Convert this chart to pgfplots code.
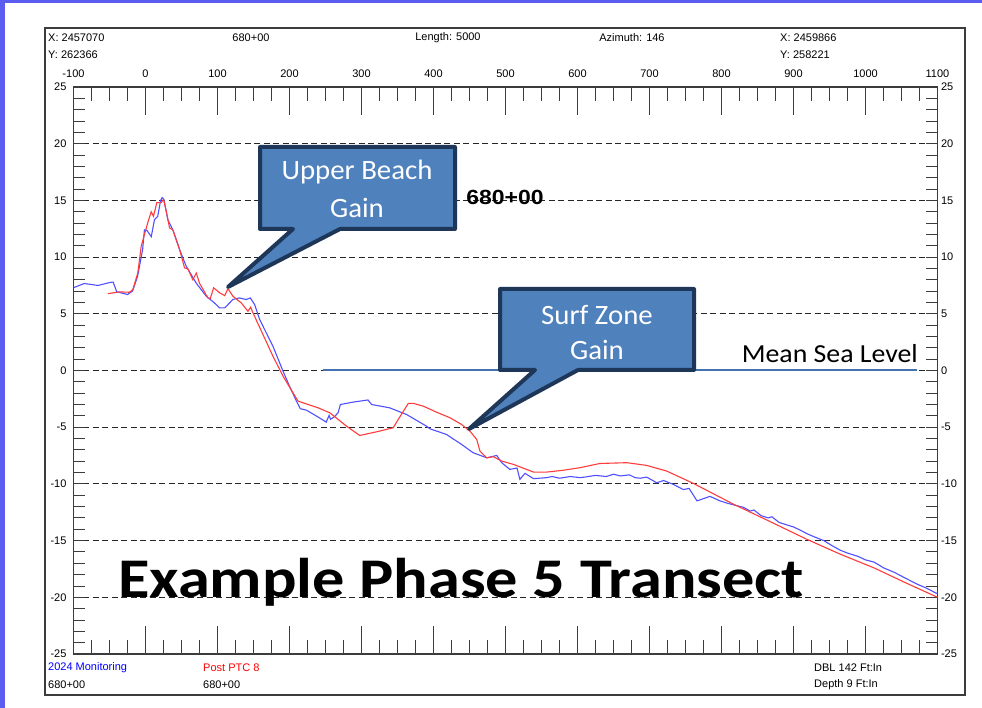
\documentclass[border=0pt]{standalone}
\usepackage{fontspec}
\setmainfont{Liberation Sans}
\newfontfamily\calibri{Carlito}
\usepackage{pgfplots}
\pgfplotsset{compat=1.18}

\definecolor{slideblue}{RGB}{92,92,240}
\definecolor{callfill}{RGB}{79,129,189}
\definecolor{calledge}{RGB}{30,55,88}
\definecolor{mslline}{RGB}{68,114,176}
\definecolor{blueline}{RGB}{80,80,255}
\definecolor{redline}{RGB}{255,60,60}
\definecolor{axgray}{RGB}{60,60,60}

\pgfplotstableread{
x y
-100 7.3
-85 7.67
-66 7.5
-50 7.75
-45 7.8
-40 6.95
-25 6.7
-18 7.0
-11 8.3
-4 10.66
-1.5 12.4
2 12.36
8 11.8
12.5 13.3
17 13.6
21 15.0
23.2 15.25
25.5 15.1
31 13.3
38 12.4
47.3 10.66
56.6 9.19
70.5 7.7
84.4 6.55
95 6.0
103 5.52
110 5.52
121.4 6.26
130 6.4
140 6.26
145.6 6.4
151.6 5.81
158.6 4.49
177 2.14
191 -0.06
200 -1.38
209.6 -2.7
215 -3.37
223.5 -3.5
237 -4.0
251 -4.55
255 -3.96
257 -4.3
262 -4.1
267.5 -3.73
270.7 -3.0
288 -2.79
309 -2.6
314 -3.0
339 -3.29
362.6 -3.88
390 -4.9
395 -5.14
418 -5.64
439 -6.52
455 -7.25
474 -7.7
487.8 -7.49
494.7 -8.13
506 -8.72
516 -8.6
520 -9.6
527 -9.07
539 -9.54
557 -9.45
565 -9.35
575 -9.5
590 -9.35
603.6 -9.45
610 -9.4
625 -9.25
640 -9.35
650 -9.15
660 -9.3
672 -9.2
680 -9.45
687 -9.5
696 -9.4
710 -9.9
719.5 -9.7
733 -10.04
747 -10.5
755 -10.4
766 -11.5
775 -11.3
784 -11.1
798 -11.5
808 -11.7
826 -12.0
830 -12.05
840 -12.4
845 -12.3
855 -12.8
865 -13.0
870 -12.9
880 -13.4
890 -13.6
900 -13.8
910 -14.1
919 -14.4
930 -14.7
942 -15.0
955 -15.5
965 -15.85
975 -16.1
990 -16.4
1000 -16.7
1012 -16.9
1025 -17.4
1040 -17.8
1055 -18.3
1072 -18.85
1085 -19.2
1100 -19.7
}\bluedata

\pgfplotstableread{
x y
-52 6.78
-36 6.93
-22 6.9
-17.6 7.14
-10.7 8.6
-6 10.95
-1.4 12.0
3 13.0
7.9 14.0
11.1 13.6
15.7 14.8
21.8 14.8
25 15.1
29 14.0
33.4 12.57
38 12.4
47.3 10.7
54.2 9.05
58.9 8.96
65.8 8.0
70.5 8.6
75 7.7
86.7 6.4
90 6.35
94.6 7.29
103 6.85
110 6.6
114.5 7.22
121.4 6.55
133 5.96
142.3 5.22
146 5.58
149.3 5.08
177 1.26
191 -0.5
211.8 -2.7
239.7 -3.29
256 -3.73
279 -4.9
297.6 -5.73
325 -5.35
344 -5.05
351 -4.32
365 -2.9
372 -2.9
385.7 -3.14
404 -3.67
423 -4.17
439 -4.76
450.6 -5.35
460 -6.08
464.5 -7.1
474 -7.7
483 -7.6
494.7 -7.99
511 -8.28
539 -8.96
557 -8.96
580 -8.8
603.6 -8.57
631 -8.2
668.6 -8.13
696 -8.37
724 -8.87
761 -9.96
817 -11.8
870 -13.4
919 -14.9
965 -16.2
1011.6 -17.4
1055 -18.7
1100 -20.0
}\reddata

\pgfplotsset{
  common/.style={
    at={(73.5pt,54pt)}, anchor=south west, scale only axis,
    width=864pt, height=567pt,
    xmin=-100, xmax=1100, ymin=-25, ymax=25,
    tick align=inside,
    /pgf/number format/assume math mode=true,
    /pgf/number format/1000 sep={},
    ticklabel style={font=\fontsize{11}{13}\selectfont, text=black},
  }
}

\begin{document}
\begin{tikzpicture}[x=1pt,y=1pt]
\fill[white] (0,0) rectangle (982,708);
\fill[slideblue] (0,0) rectangle (5,708);
\fill[slideblue] (0,705) rectangle (982,708);
\draw[axgray, line width=1.1pt] (45,13) rectangle (965,680);

% axis B: y ticks, grid, left labels
\begin{axis}[common,
  axis line style={draw=none},
  xtick=\empty,
  ytick={-25,-20,...,25},
  minor y tick num=4,
  ytick pos=both,
  yticklabel pos=left,
  major tick length=12pt, minor tick length=12pt,
  tick style={axgray, line width=0.9pt},
  ymajorgrids,
  major grid style={black!85, line width=0.8pt, dash pattern=on 6pt off 3.5pt},
  yticklabel style={xshift=-3.5pt},
]
\end{axis}

% axis C: right labels
\begin{axis}[common,
  axis line style={draw=none},
  xtick=\empty,
  ytick={-25,-20,...,25},
  ytick pos=right,
  yticklabel pos=right,
  major tick length=0pt,
  tick style={draw=none},
]
\end{axis}

% axis A: x ticks, frame, curves
\begin{axis}[common,
  axis line style={axgray, line width=1.1pt},
  xtick={-100,0,...,1100},
  minor x tick num=3,
  ytick=\empty,
  xtick pos=both,
  xticklabel pos=upper,
  major tick length=28pt, minor tick length=14pt,
  tick style={axgray, line width=0.9pt},
  xticklabel style={yshift=6pt},
]
\addplot[blueline, line width=1.1pt, no markers] table[x=x,y=y] {\bluedata};
\addplot[redline, line width=1.1pt, no markers] table[x=x,y=y] {\reddata};
\draw[mslline, line width=2pt] (axis cs:246,0) -- (axis cs:1071,0);
\end{axis}

% header texts
\begin{scope}[every node/.style={font=\fontsize{11}{13}\selectfont, inner sep=0pt}]
\node[anchor=west] at (48,670) {X: 2457070};
\node[anchor=west] at (48,653) {Y: 262366};
\node at (251,670) {680+00};
\node at (448,670) {Length: 5000};
\node at (632,670) {Azimuth: 146};
\node[anchor=west] at (780,670) {X: 2459866};
\node[anchor=west] at (780,653) {Y: 258221};
\node[anchor=west, text=blue] at (48,40) {2024 Monitoring};
\node[anchor=west] at (48,23) {680+00};
\node[anchor=west, text=red] at (203,40) {Post PTC 8};
\node[anchor=west] at (203,23) {680+00};
\node[anchor=west] at (814,40) {DBL 142 Ft:In};
\node[anchor=west] at (814,23) {Depth 9 Ft:In};
\end{scope}

% labels
\node[font=\bfseries\fontsize{20.5}{24}\selectfont, inner sep=0pt] at (505,511) {\scalebox{1.12}[1]{680+00}};
\node[font=\calibri\fontsize{26}{30}\selectfont, anchor=base east, inner sep=0pt] at (918,345) {\scalebox{1.07}[1]{Mean Sea Level}};

% callout 1
\draw[calledge, fill=callfill, line width=4pt, line join=round]
  (260,561) -- (455,561) -- (455,479) -- (340,479) -- (228,421) -- (293,479) -- (260,479) -- cycle;
\node[text=white, font=\calibri\fontsize{28}{30}\selectfont] at (357,536) {\scalebox{1.03}[1]{Upper Beach}};
\node[text=white, font=\calibri\fontsize{28}{30}\selectfont] at (357,500) {\scalebox{1.03}[1]{Gain}};

% callout 2
\draw[calledge, fill=callfill, line width=4pt, line join=round]
  (500,419) -- (694,419) -- (694,338) -- (578,338) -- (469,279) -- (535,338) -- (500,338) -- cycle;
\node[text=white, font=\calibri\fontsize{28}{30}\selectfont] at (597,393) {\scalebox{1.03}[1]{Surf Zone}};
\node[text=white, font=\calibri\fontsize{28}{30}\selectfont] at (597,358) {\scalebox{1.03}[1]{Gain}};

% title
\node[font=\calibri\bfseries\fontsize{56}{64}\selectfont, anchor=base, inner sep=0pt] at (461,110) {\scalebox{1.15}[1]{Example Phase 5 Transect}};
\end{tikzpicture}
\end{document}
